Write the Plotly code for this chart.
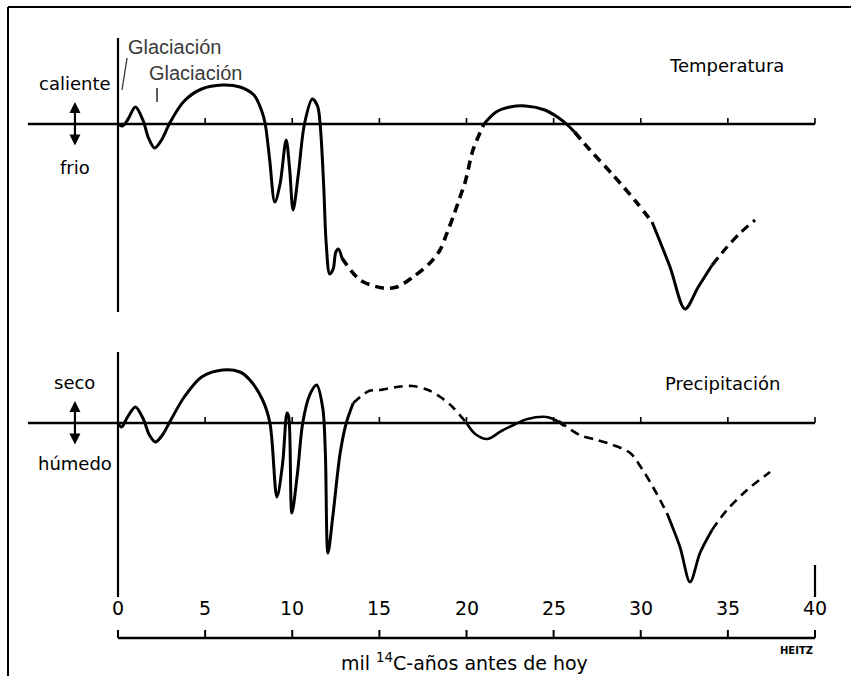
import plotly.graph_objects as go

# ---------------- data (x: thousand 14C years BP, values: relative anomaly) ----------------
temp_solid1_x = [0.0, 0.25, 0.55, 1.0, 1.45, 1.75, 2.1, 2.5, 3.0, 3.8, 4.8, 6.0, 7.0, 7.8, 8.25, 8.45,
                 8.7, 9.0, 9.3, 9.65, 9.85, 10.05, 10.35, 10.7, 11.15, 11.45, 11.6, 11.8, 11.95, 12.15,
                 12.35, 12.5, 12.65, 12.85]
temp_solid1_v = [0.0, -0.2, 0.4, 1.7, 0.3, -1.4, -2.4, -1.6, 0.2, 2.3, 3.5, 3.9, 3.7, 2.9, 1.3, 0.0,
                 -3.5, -7.8, -6.0, -1.6, -4.5, -8.6, -5.0, 0.0, 2.5, 1.8, 0.0, -6.0, -12.0, -15.0,
                 -14.5, -12.8, -12.5, -13.4]
temp_dash1_x = [12.85, 13.9, 15.2, 16.0, 16.93, 17.9, 18.48, 18.88, 19.23, 19.63, 19.91, 20.09, 20.37, 21.0]
temp_dash1_v = [-13.4, -15.6, -16.4, -16.3, -15.3, -13.9, -12.6, -10.9, -9.3, -7.3, -5.9, -4.6, -2.6, 0.0]
temp_solid2_x = [21.0, 21.7, 22.5, 23.4, 24.5, 25.3, 25.8, 26.2]
temp_solid2_v = [0.0, 1.2, 1.7, 1.8, 1.4, 0.6, -0.1, -0.8]
temp_dash2_x = [26.2, 27.09, 28.41, 29.79, 30.65]
temp_dash2_v = [-0.8, -2.6, -5.1, -7.9, -9.8]
temp_solid3_x = [30.65, 31.68, 32.54, 33.3, 34.1]
temp_solid3_v = [-9.8, -14.3, -18.5, -16.3, -14.1]
temp_dash3_x = [34.1, 34.95, 35.7, 36.56]
temp_dash3_v = [-14.1, -12.3, -10.9, -9.6]

prec_solid1_x = [0.0, 0.2, 0.55, 1.0, 1.45, 1.8, 2.15, 2.55, 3.0, 3.8, 4.8, 6.0, 7.0, 7.57, 8.3, 8.72,
                 9.12, 9.45, 9.7, 9.8, 9.98, 10.3, 10.6, 11.0, 11.4, 11.75, 11.9, 12.05, 12.35, 12.75,
                 13.1, 13.5]
prec_solid1_v = [0.0, -0.4, 0.6, 1.6, 0.4, -1.2, -1.9, -1.2, 0.2, 2.6, 4.6, 5.3, 5.1, 4.3, 2.3, 0.0,
                 -7.4, -4.0, 1.0, 0.6, -9.0, -5.0, 0.0, 2.8, 3.8, 1.5, -3.0, -13.0, -9.0, -3.0,
                 0.0, 2.0]
prec_dash1_x = [13.5, 14.4, 15.0, 16.0, 16.9, 17.8, 18.5, 19.2, 20.0]
prec_dash1_v = [2.0, 3.2, 3.3, 3.6, 3.7, 3.3, 2.6, 1.6, 0.0]
prec_solid2_x = [20.0, 20.5, 21.2, 22.0, 22.7, 23.5, 24.6, 25.2, 25.6]
prec_solid2_v = [0.0, -1.1, -1.6, -0.8, -0.2, 0.4, 0.6, 0.2, -0.3]
prec_dash2_x = [25.3, 26.5, 27.5, 28.4, 29.4, 30.0, 30.7, 31.5]
prec_dash2_v = [0.2, -1.2, -1.7, -2.2, -3.0, -4.4, -6.4, -9.0]
prec_solid3_x = [31.5, 32.25, 32.83, 33.4, 34.09]
prec_solid3_v = [-9.0, -12.4, -15.9, -13.0, -10.7]
prec_dash3_x = [34.09, 34.95, 36.1, 37.42]
prec_dash3_v = [-10.7, -8.7, -6.7, -4.9]

tick_vals = [0, 5, 10, 15, 20, 25, 30, 35, 40]
tick_text = ["0", "5", "10", "15", "20", "25", "30", "35", "40"]

# ---------------- figure ----------------
W, H = 851, 676
fig = go.Figure()

FONT = "DejaVu Sans"
BLACK = "#000000"

def seg(x, v, axis, dashed, width):
    fig.add_trace(go.Scatter(
        x=x, y=v, mode="lines", yaxis=axis, hoverinfo="skip", showlegend=False,
        line=dict(color=BLACK, width=width, shape="spline", smoothing=0.9,
                  dash="9px,6px" if dashed else "solid")))

seg(temp_solid1_x, temp_solid1_v, "y", False, 3)
seg(temp_dash1_x, temp_dash1_v, "y", True, 3.6)
seg(temp_solid2_x, temp_solid2_v, "y", False, 3)
seg(temp_dash2_x, temp_dash2_v, "y", True, 3.6)
seg(temp_solid3_x, temp_solid3_v, "y", False, 3)
seg(temp_dash3_x, temp_dash3_v, "y", True, 3.2)

seg(prec_solid1_x, prec_solid1_v, "y2", False, 3)
seg(prec_dash1_x, prec_dash1_v, "y2", True, 2.6)
seg(prec_solid2_x, prec_solid2_v, "y2", False, 2.6)
seg(prec_dash2_x, prec_dash2_v, "y2", True, 2.6)
seg(prec_solid3_x, prec_solid3_v, "y2", False, 2.8)
seg(prec_dash3_x, prec_dash3_v, "y2", True, 2.6)

shapes = []
def line(x0, y0, x1, y1, yref="y", width=2.5, color=BLACK, xref="x"):
    shapes.append(dict(type="line", xref=xref, yref=yref, x0=x0, y0=y0, x1=x1, y1=y1,
                       line=dict(color=color, width=width)))

# outer frame (left and top)
line(8 / W, 0, 8 / W, 1 - 7 / H, yref="paper", xref="paper", width=2)
line(8 / W, 1 - 7 / H, 1, 1 - 7 / H, yref="paper", xref="paper", width=2)

# temperature panel axes
line(0, 8.6, 0, -18.8, yref="y", width=2.2)
line(-5.17, 0, 40, 0, yref="y", width=2.6)
for t in tick_vals[1:]:
    line(t, 0, t, 0.6, yref="y", width=1.6)

# precipitation panel axes
line(0, 7.1, 0, -17.4, yref="y2", width=2.2)
line(40, -14.2, 40, -17.4, yref="y2", width=2.2)
line(-5.17, 0, 40, 0, yref="y2", width=2.6)
for t in tick_vals[1:]:
    line(t, 0, t, 0.6, yref="y2", width=1.6)

# bottom time axis
line(0, -21.5, 40, -21.5, yref="y2", width=2.6)
for t in tick_vals:
    line(t, -21.5, t, -20.7, yref="y2", width=2)

# Glaciación pointers
line(0.52, 6.6, 0.23, 3.4, yref="y", width=1.3, color="#333333")
line(2.24, 3.6, 2.24, 2.2, yref="y", width=1.6, color="#333333")

annotations = []
def text(x, y, s, yref="y", size=18, xanchor="center", color=BLACK, family=FONT):
    annotations.append(dict(x=x, y=y, xref="x", yref=yref, text=s, showarrow=False,
                            xanchor=xanchor, yanchor="middle",
                            font=dict(family=family, size=size, color=color)))

text(-2.47, 4.1, "caliente")
text(-2.47, -4.3, "frio")
text(34.9, 5.9, "Temperatura")
text(-2.47, 4.1, "seco", yref="y2")
text(-2.47, -4.0, "húmedo", yref="y2")
text(34.7, 4.0, "Precipitación", yref="y2")
text(3.27, 7.7, "Glaciación", size=20, color="#3a3a3a", family="Liberation Sans")
text(4.42, 5.1, "Glaciación", size=20, color="#3a3a3a", family="Liberation Sans")

for tv, tt in zip(tick_vals, tick_text):
    text(tv, -18.5, tt, yref="y2", size=19)

text(19.9, -23.9, "mil <sup>14</sup>C-años antes de hoy", yref="y2", size=19)
text(40, -22.7, "<b>HEITZ</b>", yref="y2", size=10, xanchor="right")

# double-headed arrows
for yref in ("y", "y2"):
    annotations.append(dict(x=-2.47, y=2.2, ax=-2.47, ay=-2.3, xref="x", yref=yref,
                            axref="x", ayref=yref, text="", showarrow=True,
                            arrowhead=2, startarrowhead=2, arrowside="end+start",
                            arrowsize=1, arrowwidth=2.2, arrowcolor=BLACK))

x0_px = 118.0
px_per_unit = (815.0 - 118.0) / 40.0
xr = [(0 - x0_px) / px_per_unit, (W - x0_px) / px_per_unit]

fig.update_layout(
    width=W, height=H,
    margin=dict(l=0, r=0, t=0, b=0, pad=0),
    paper_bgcolor="white", plot_bgcolor="white",
    shapes=shapes, annotations=annotations,
    xaxis=dict(range=xr, visible=False, fixedrange=True),
    yaxis=dict(range=[(124 - H) / 10.0, 124 / 10.0], visible=False, domain=[0, 1], fixedrange=True),
    yaxis2=dict(range=[(423 - H) / 10.0, 423 / 10.0], visible=False, overlaying="y", fixedrange=True),
    showlegend=False,
)

fig.write_html("out.html", config={"displayModeBar": False},
               post_script="document.body.style.margin='0px';")
